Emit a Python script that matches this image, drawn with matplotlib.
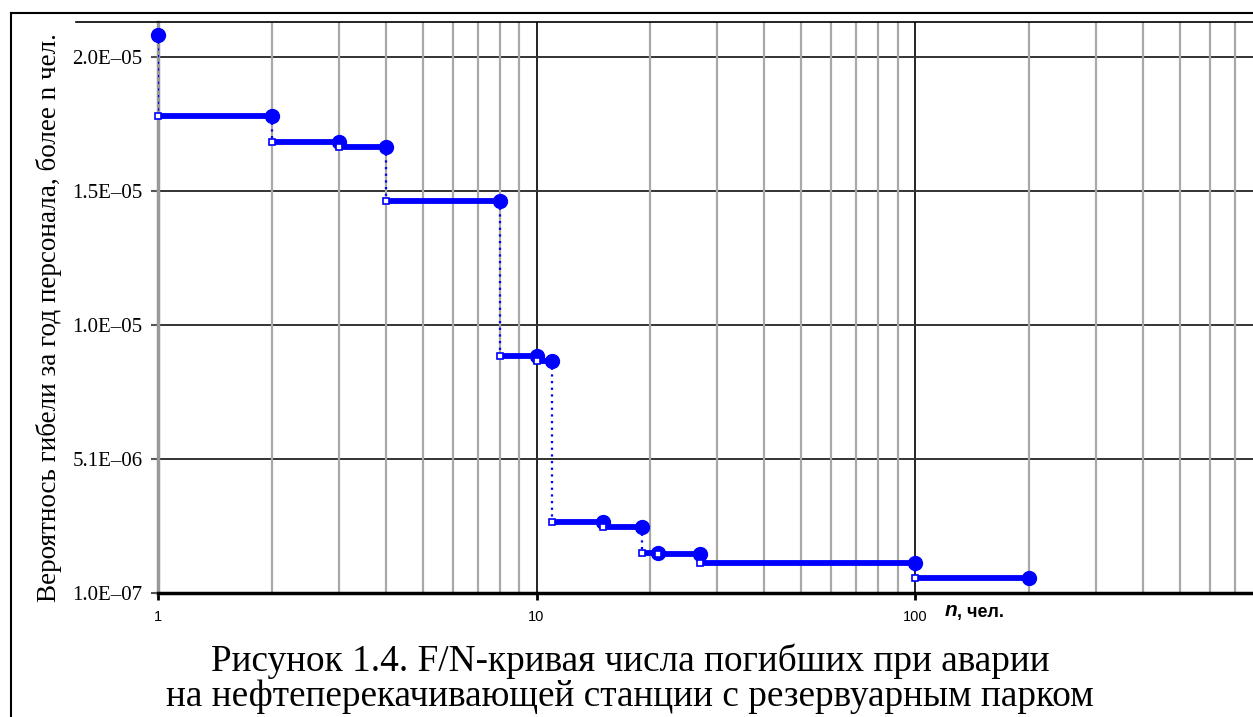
import matplotlib
matplotlib.use("Agg")
import matplotlib.pyplot as plt
from matplotlib.lines import Line2D
from matplotlib.ticker import FixedLocator, NullFormatter

# steps of the F/N curve: from n_start to n_end at frequency freq
n_start = [1, 2, 3, 4, 8, 10, 11, 15, 19, 21, 27, 100]
n_end = [2, 3, 4, 8, 10, 11, 15, 19, 21, 27, 100, 200]
freq = [1.781e-5, 1.685e-5, 1.666e-5, 1.466e-5, 8.90e-6, 8.71e-6,
        2.74e-6, 2.55e-6, 1.59e-6, 1.56e-6, 1.21e-6, 6.6e-7]
top_n = 1
top_freq = 2.082e-5

ytick_vals = [1.0e-7, 5.075e-6, 1.005e-5, 1.5025e-5, 2.0e-5]
ytick_labels = ["1.0E\u201307", "5.1E\u201306", "1.0E\u201305", "1.5E\u201305", "2.0E\u201305"]
xtick_vals = [1, 10, 100]
xtick_labels = ["1", "10", "100"]

W, H = 1253, 717
fig = plt.figure(figsize=(W / 100, H / 100), dpi=100)
fig.patch.set_facecolor("white")

left, right, top, bottom = 158, 1253, 22, 593
ax = fig.add_axes([left / W, (H - bottom) / H, (right - left) / W, (bottom - top) / H])
ax.set_xscale("log")
decade = 378.5
ax.set_xlim(1, 10 ** ((right - left) / decade))
ax.set_ylim(1.0e-7, 1.0e-7 + (bottom - top) * 4.975e-6 / 134)

# grid
minor = [k * 10 ** d for d in range(3) for k in range(2, 10)]
ax.xaxis.set_minor_locator(FixedLocator(minor))
ax.xaxis.set_minor_formatter(NullFormatter())
ax.set_xticks(xtick_vals)
ax.set_xticklabels(xtick_labels, fontfamily="Liberation Sans", fontsize=10.5)
ax.set_yticks(ytick_vals)
ax.set_yticklabels(ytick_labels, fontfamily="Liberation Serif", fontsize=15)

ax.grid(True, which="minor", axis="x", color="#a8a8a8", lw=1.6)
for xv in xtick_vals[1:]:
    ax.axvline(xv, color="#222222", lw=1.4, zorder=1)
for yv in ytick_vals[1:]:
    ax.axhline(yv, color="#333333", lw=1.4, zorder=1)

ax.tick_params(axis="x", which="major", length=5, width=2, color="black", pad=7)
ax.tick_params(axis="x", which="minor", length=0)
ax.tick_params(axis="y", length=5, width=1.5, color="#555555", pad=6)

for s in ["top", "right"]:
    ax.spines[s].set_visible(False)
ax.spines["left"].set_color("#999999")
ax.spines["left"].set_linewidth(2.5)
ax.spines["bottom"].set_color("black")
ax.spines["bottom"].set_linewidth(2.5)
ax.spines["bottom"].set_zorder(5)

blue = "#0000ff"
# dotted drops
prev_f = top_freq
for i in range(len(freq)):
    x_drop = n_start[i]
    ax.plot([x_drop, x_drop], [prev_f, freq[i]], color=blue, lw=1.6, ls=(0, (1, 2)), zorder=3)
    prev_f = freq[i]
# horizontal steps
for i in range(len(freq)):
    ax.plot([n_start[i], n_end[i]], [freq[i], freq[i]], color=blue, lw=4.2,
            solid_capstyle="butt", zorder=4)
# filled markers at segment ends
ax.plot([top_n] + n_end, [top_freq] + freq, ls="none", marker="o", ms=10,
        color=blue, zorder=5, clip_on=False)
# open markers at segment starts
ax.plot(n_start, freq, ls="none", marker="s", ms=5, mfc="white", mec=blue,
        mew=1.2, zorder=6, clip_on=False)

ax.set_ylabel("Вероятнось гибели за год персонала, более n чел.",
              fontfamily="Liberation Serif", fontsize=19.5)
ax.yaxis.set_label_coords(-0.0875, 0.482)

fig.text(945 / W, 1 - 611 / H, "n", fontfamily="Liberation Sans", fontsize=15,
         fontweight="bold", fontstyle="italic", va="center", ha="left")
fig.text(957 / W, 1 - 612 / H, ", чел.", fontfamily="Liberation Sans", fontsize=13,
         fontweight="bold", va="center", ha="left")

fig.text(630 / W, 1 - 661 / H, "Рисунок 1.4. F/N-кривая числа погибших при аварии",
         fontfamily="Liberation Serif", fontsize=26.8, ha="center", va="center")
fig.text(630 / W, 1 - 697 / H, "на нефтеперекачивающей станции с резервуарным парком",
         fontfamily="Liberation Serif", fontsize=26.8, ha="center", va="center")

# page frame lines
fig.add_artist(Line2D([11 / W, 1], [1 - 13 / H, 1 - 13 / H], color="black", lw=1.5))
fig.add_artist(Line2D([11 / W, 11 / W], [0, 1 - 13 / H], color="black", lw=1.5))
fig.add_artist(Line2D([76 / W, 1], [1 - 22 / H, 1 - 22 / H], color="black", lw=1.2))

fig.savefig("out.png", dpi=100)
